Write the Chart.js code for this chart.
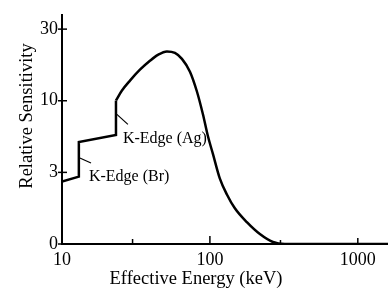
<!DOCTYPE html>
<html>
<head>
<meta charset="utf-8">
<script src="https://cdn.jsdelivr.net/npm/chart.js@4"></script>
<style>
  body { margin: 0; background: #fff; }
  #wrap { width: 388px; height: 290px; }
</style>
</head>
<body>
<div id="wrap"><canvas id="chart"></canvas></div>
<script>
// energy in keV (log axis), sensitivity in axis steps (0, 3, 10, 30 are evenly spaced)
const stepEnergy = [10, 13.0, 13.0, 23.17, 23.17];
const stepSens = [0.871, 0.94, 1.424, 1.521, 2.005];

const curveEnergy = [23.17, 25.43, 28.81, 33.65, 39.32, 44.53, 51.23, 58.0, 64.7, 73.3, 81.7, 89.7, 96.9, 104.8, 116.8, 130.3, 147.5, 177.8, 217.7, 266.6, 321.3, 600, 1600];
const curveSens = [2.005, 2.143, 2.281, 2.433, 2.558, 2.641, 2.689, 2.668, 2.585, 2.406, 2.129, 1.811, 1.507, 1.258, 0.912, 0.691, 0.498, 0.304, 0.138, 0.028, 0, 0, 0];

const yTicks = [0, 1, 2, 3];
const yTickLabels = ['0', '3', '10', '30'];
const xTicks = [10, 30, 100, 300, 1000];
const xTickLabels = ['10', '', '100', '', '1000'];
const xTickLen = [0, 5, 8, 4, 6];

// K-edge notes: text anchor and leader line, in data units
const noteText = ['K-Edge (Br)', 'K-Edge (Ag)'];
const noteAt = [[15.2, 0.94], [25.8, 1.47]];
const leaderFrom = [[13.2, 1.20], [23.5, 1.81]];
const leaderTo = [[15.7, 1.13], [27.9, 1.67]];

const xTitle = 'Effective Energy (keV)';
const yTitle = 'Relative Sensitivity';

const serif = '"Liberation Serif", "Times New Roman", serif';

const toPoints = (xs, ys) => xs.map((x, i) => ({ x: x, y: ys[i] }));

const extras = {
    id: 'extras',
    afterDatasetsDraw(chart) {
        const ctx = chart.ctx;
        const xs = chart.scales.x;
        const ys = chart.scales.y;
        const area = chart.chartArea;
        ctx.save();
        ctx.strokeStyle = '#000';
        ctx.lineWidth = 1.5;
        // inward ticks on x axis
        xTicks.forEach((v, i) => {
            const px = xs.getPixelForValue(v);
            if (xTickLen[i] > 0) {
                ctx.beginPath();
                ctx.moveTo(px, area.bottom);
                ctx.lineTo(px, area.bottom - xTickLen[i]);
                ctx.stroke();
            }
        });
        // ticks crossing the y axis
        yTicks.forEach(v => {
            const py = ys.getPixelForValue(v);
            ctx.beginPath();
            ctx.moveTo(area.left - 4, py);
            ctx.lineTo(area.left + 5, py);
            ctx.stroke();
        });
        // leader lines
        ctx.lineWidth = 1.2;
        noteText.forEach((t, i) => {
            ctx.beginPath();
            ctx.moveTo(xs.getPixelForValue(leaderFrom[i][0]), ys.getPixelForValue(leaderFrom[i][1]));
            ctx.lineTo(xs.getPixelForValue(leaderTo[i][0]), ys.getPixelForValue(leaderTo[i][1]));
            ctx.stroke();
        });
        ctx.fillStyle = '#000';
        ctx.font = '16px ' + serif;
        ctx.textAlign = 'left';
        ctx.textBaseline = 'middle';
        noteText.forEach((t, i) => {
            ctx.fillText(t, xs.getPixelForValue(noteAt[i][0]), ys.getPixelForValue(noteAt[i][1]));
        });
        // axis titles, set a little off-centre like the original
        ctx.font = '18.5px ' + serif;
        ctx.textAlign = 'center';
        ctx.fillText(xTitle, 196, 279);
        ctx.translate(27, 116);
        ctx.rotate(-Math.PI / 2);
        ctx.fillText(yTitle, 0, 0);
        ctx.restore();
    }
};

new Chart(document.getElementById('chart'), {
    type: 'scatter',
    data: {
        datasets: [{
            data: toPoints(stepEnergy, stepSens),
            showLine: true,
            borderColor: '#000',
            borderWidth: 2.5,
            pointRadius: 0,
            tension: 0
        }, {
            data: toPoints(curveEnergy, curveSens),
            showLine: true,
            borderColor: '#000',
            borderWidth: 2.5,
            pointRadius: 0,
            cubicInterpolationMode: 'monotone'
        }]
    },
    options: {
        responsive: true,
        maintainAspectRatio: false,
        animation: false,
        layout: { padding: { top: 7, right: 0, left: 0, bottom: 0 } },
        plugins: {
            legend: { display: false },
            tooltip: { enabled: false }
        },
        scales: {
            x: {
                type: 'logarithmic',
                min: 10,
                max: 1600,
                grid: { display: false, drawTicks: false },
                border: { display: true, color: '#000', width: 2 },
                afterBuildTicks: scale => { scale.ticks = xTicks.map(v => ({ value: v })); },
                afterFit: scale => { scale.height = 46; },
                ticks: {
                    autoSkip: false,
                    maxRotation: 0,
                    padding: 5,
                    color: '#000',
                    font: { family: serif, size: 18 },
                    callback: (v) => xTickLabels[xTicks.indexOf(v)] || ''
                }
            },
            y: {
                type: 'linear',
                min: 0,
                max: 3.2,
                grid: { display: false, drawTicks: false },
                border: { display: true, color: '#000', width: 2 },
                afterBuildTicks: scale => { scale.ticks = yTicks.map(v => ({ value: v })); },
                afterFit: scale => { scale.width = 62; },
                ticks: {
                    padding: 4,
                    color: '#000',
                    font: { family: serif, size: 18 },
                    callback: (v) => yTickLabels[yTicks.indexOf(v)]
                }
            }
        }
    },
    plugins: [extras]
});
</script>
</body>
</html>
